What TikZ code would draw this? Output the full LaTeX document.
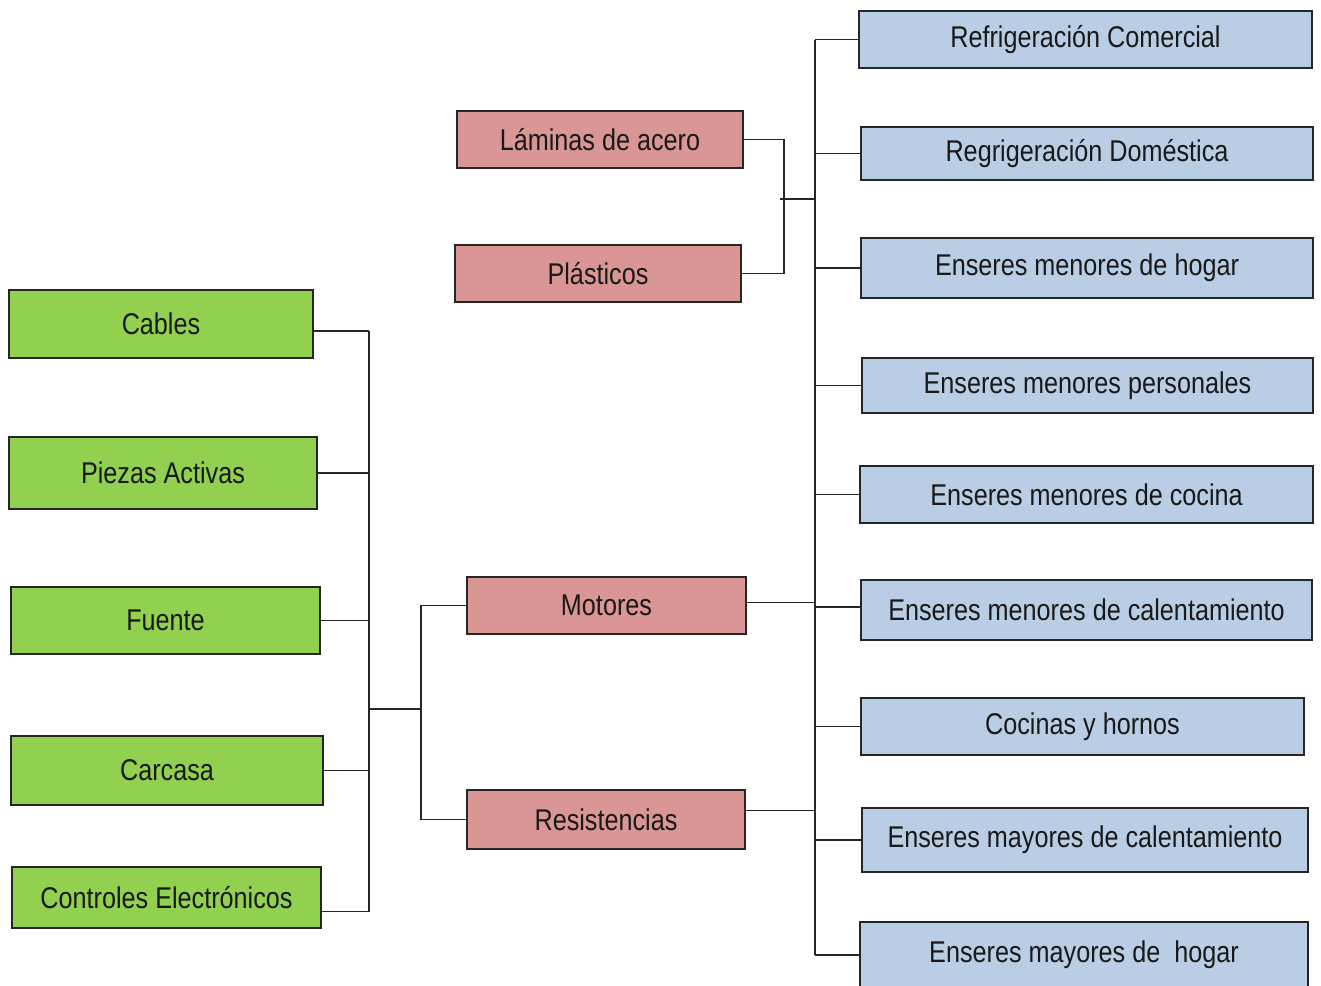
\documentclass[tikz,border=0pt]{standalone}
\usepackage{fontspec}
\setmainfont{Liberation Sans}[FakeStretch=0.84]
\definecolor{gfill}{HTML}{92D050}
\definecolor{rfill}{HTML}{D99694}
\definecolor{bfill}{HTML}{B9CDE5}
\definecolor{edge}{HTML}{262626}
\begin{document}
\begin{tikzpicture}[x=1pt,y=-1pt,
  box/.style={draw=edge, line width=1.4pt, inner sep=0pt, align=center,
    font=\fontsize{30}{34}\selectfont, text=black!90},
  gbox/.style={box, fill=gfill},
  rbox/.style={box, fill=rfill},
  bbox/.style={box, fill=bfill},
  link/.style={draw=edge, line width=1.4pt}]
\useasboundingbox[fill=white] (0,0) rectangle (1321,985);
% green boxes
\node[gbox, minimum width=304pt, minimum height=68pt] (cables) at (161,324) {Cables};
\node[gbox, minimum width=308pt, minimum height=72pt] (piezas) at (163,473) {Piezas Activas};
\node[gbox, minimum width=309pt, minimum height=67pt] (fuente) at (165.5,620.5) {Fuente};
\node[gbox, minimum width=312pt, minimum height=69pt] (carcasa) at (167,770.5) {Carcasa};
\node[gbox, minimum width=309pt, minimum height=61pt] (controles) at (166.5,897.5) {Controles Electrónicos};
% red boxes
\node[rbox, minimum width=286pt, minimum height=57pt] (laminas) at (600,139.5) {Láminas de acero};
\node[rbox, minimum width=286pt, minimum height=57pt] (plasticos) at (598,273.5) {Plásticos};
\node[rbox, minimum width=279pt, minimum height=57pt] (motores) at (606.5,605.5) {Motores};
\node[rbox, minimum width=278pt, minimum height=59pt] (resist) at (606,819.5) {Resistencias};
% blue boxes
\node[bbox, minimum width=453pt, minimum height=57pt] (b1) at (1085.5,39.5) {Refrigeración Comercial};
\node[bbox, minimum width=452pt, minimum height=53pt] (b2) at (1087,153.5) {Regrigeración Doméstica};
\node[bbox, minimum width=452pt, minimum height=60pt] (b3) at (1087,268) {Enseres menores de hogar};
\node[bbox, minimum width=451pt, minimum height=55pt] (b4) at (1087.5,385.5) {Enseres menores personales};
\node[bbox, minimum width=453pt, minimum height=57pt] (b5) at (1086.5,494.5) {Enseres menores de cocina};
\node[bbox, minimum width=451pt, minimum height=60pt] (b6) at (1086.5,610) {Enseres menores de calentamiento};
\node[bbox, minimum width=443pt, minimum height=57pt] (b7) at (1082.5,726.5) {Cocinas y hornos};
\node[bbox, minimum width=446pt, minimum height=64pt] (b8) at (1085,840) {Enseres mayores de calentamiento};
\node[bbox, minimum width=448pt, minimum height=66pt] (b9) at (1084,955) {Enseres mayores de\ \ hogar};
% trunk coordinates
\coordinate (lt) at (369,0);
\coordinate (lj) at (369,709);
\coordinate (mt) at (421,0);
\coordinate (pt) at (784,0);
\coordinate (pj) at (780,199);
\coordinate (rt) at (815,0);
% connector end points on boxes
\coordinate (cabE) at ([yshift=-7pt]cables.east);
\coordinate (conE) at ([yshift=-14pt]controles.east);
\coordinate (motE) at ([yshift=3pt]motores.east);
\coordinate (resE) at ([yshift=9pt]resist.east);
\coordinate (b6W) at ([yshift=3pt]b6.west);
% left tree
\draw[link] (cabE) -- (cabE -| lt);
\foreach \n in {piezas,fuente,carcasa}
  \draw[link] (\n.east) -- (\n.east -| lt);
\draw[link] (conE) -- (conE -| lt);
\draw[link] (cabE -| lt) -- (conE -| lt);
\draw[link] (lj) -- (lj -| mt);
\draw[link] (motores.west) -- (motores.west -| mt) -- (resist.west -| mt) -- (resist.west);
% top pair
\draw[link] (laminas.east) -- (laminas.east -| pt) -- (plasticos.east -| pt) -- (plasticos.east);
\draw[link] (pj) -- (pj -| rt);
% middle to right trunk
\draw[link] (motE) -- (motE -| rt);
\draw[link] (resE) -- (resE -| rt);
% right tree
\draw[link] (b1.west -| rt) -- (b9.west -| rt);
\foreach \n in {b1,b2,b3,b4,b5,b7,b8,b9}
  \draw[link] (\n.west -| rt) -- (\n.west);
\draw[link] (b6W -| rt) -- (b6W);
\end{tikzpicture}
\end{document}
